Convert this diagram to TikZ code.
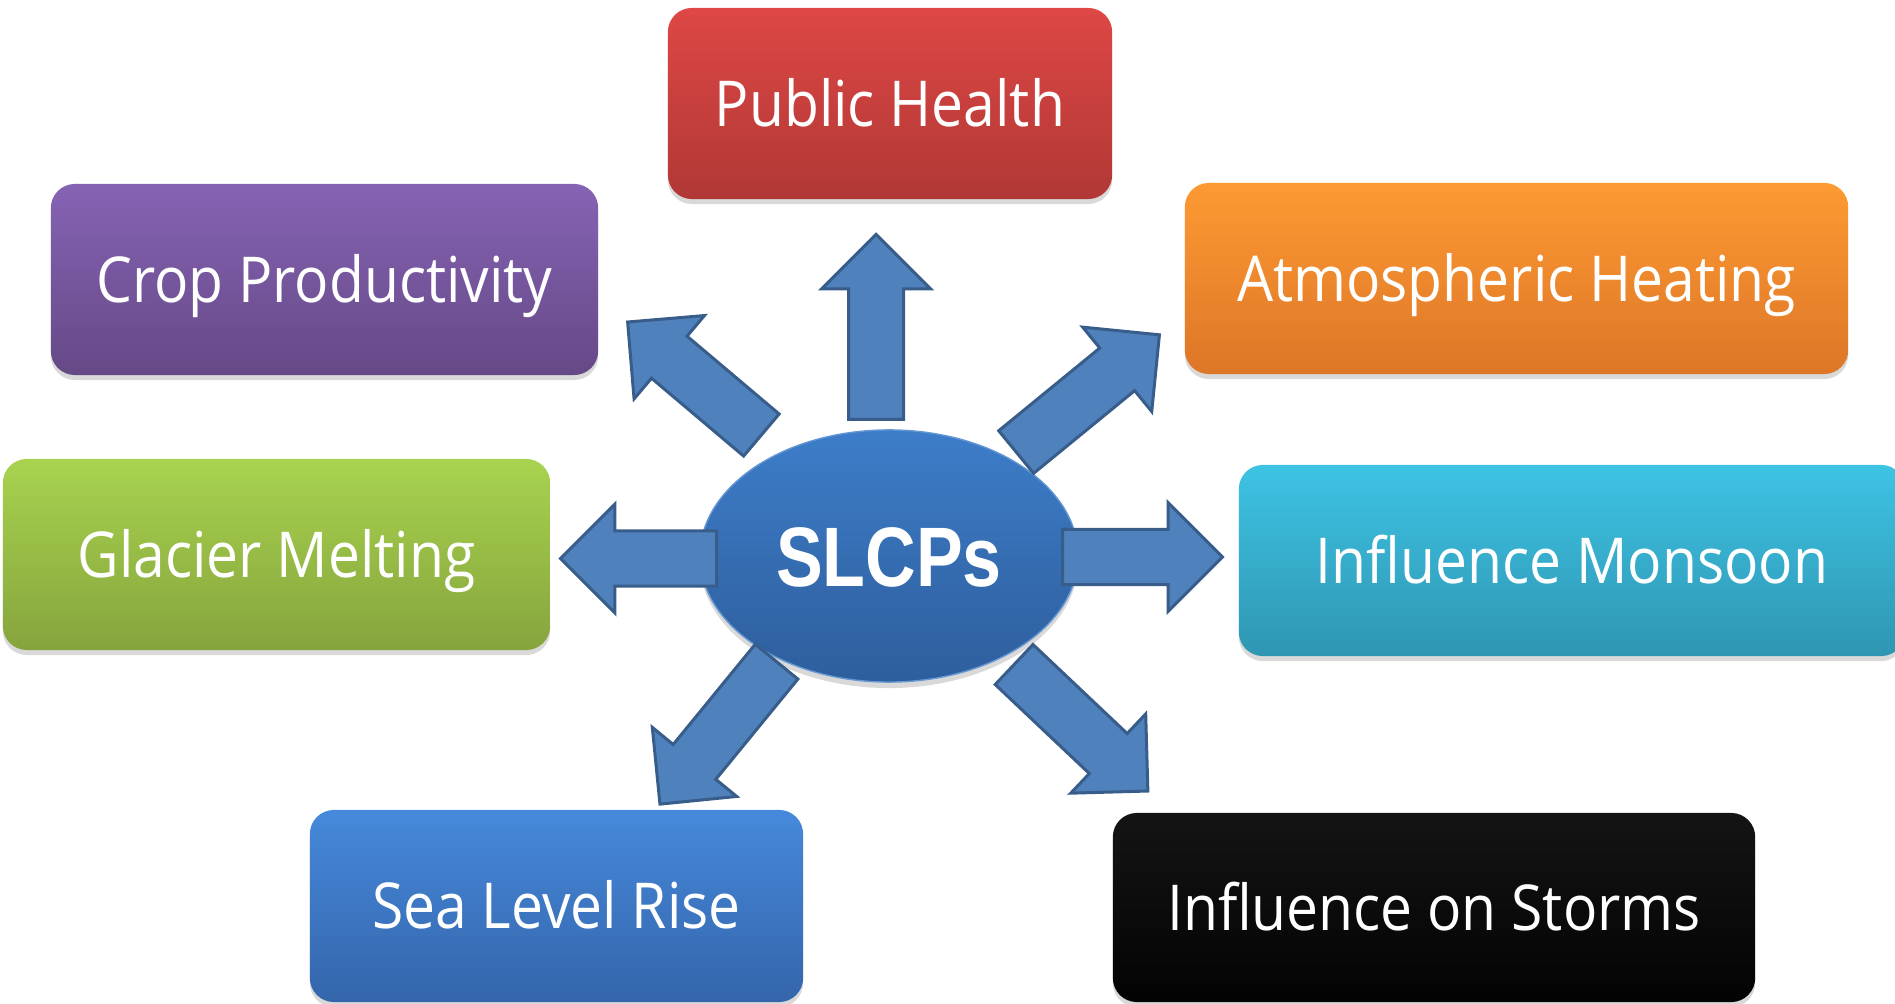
\documentclass[tikz,border=0pt]{standalone}
\usepackage{fontspec}
\usetikzlibrary{shapes.geometric,shapes.arrows,shadows}

\newfontfamily\topicfont{Open Sans}[FakeStretch=0.9]
\newfontfamily\hubfont{Liberation Sans}[FakeStretch=0.83]

\definecolor{healthtop}{HTML}{DE4745}
\definecolor{healthbot}{HTML}{B03835}
\definecolor{croptop}{HTML}{8663B4}
\definecolor{cropbot}{HTML}{654986}
\definecolor{atmostop}{HTML}{FE9A33}
\definecolor{atmosbot}{HTML}{DD7627}
\definecolor{glaciertop}{HTML}{A8D34F}
\definecolor{glacierbot}{HTML}{86A43D}
\definecolor{monsoontop}{HTML}{3EC3E4}
\definecolor{monsoonbot}{HTML}{2E96B2}
\definecolor{seatop}{HTML}{4689DB}
\definecolor{seabot}{HTML}{3465AB}
\definecolor{stormtop}{HTML}{141414}
\definecolor{stormbot}{HTML}{030303}
\definecolor{hubtop}{HTML}{3D7DC9}
\definecolor{hubbot}{HTML}{2E5E9C}
\definecolor{arrowfill}{HTML}{4F81BD}
\definecolor{arrowline}{HTML}{385D8A}

\tikzset{
    topic/.style 2 args={rectangle, rounded corners=0.24cm, top color=#1, bottom color=#2,
        text=white, inner sep=0pt,
        font=\topicfont\fontsize{18}{20}\selectfont, text height=12.85pt, text depth=0pt,
        drop shadow={shadow xshift=0cm, shadow yshift=-0.05cm, opacity=0.3}},
    blockarrow/.style={single arrow, draw=arrowline, fill=arrowfill, line width=0.03cm,
        inner xsep=0pt, inner ysep=0.26cm, minimum width=1.08cm, single arrow head extend=0.27cm,
        single arrow tip angle=90, anchor=tail}
}

\begin{document}
\begin{tikzpicture}[x=0.01cm, y=-0.01cm]
    \useasboundingbox (0,0) rectangle (1895,1004);

    % effects
    \node[topic={healthtop}{healthbot}, minimum width=4.44cm, minimum height=1.91cm] (health) at (890,103.5) {Public Health};
    \node[topic={croptop}{cropbot}, minimum width=5.47cm, minimum height=1.91cm] (crop) at (324.5,279.5) {Crop Productivity};
    \node[topic={atmostop}{atmosbot}, minimum width=6.63cm, minimum height=1.91cm] (atmos) at (1516.5,278.5) {Atmospheric Heating};
    \node[topic={glaciertop}{glacierbot}, minimum width=5.47cm, minimum height=1.91cm] (glacier) at (276.5,554.5) {Glacier Melting};
    \node[topic={monsoontop}{monsoonbot}, minimum width=6.66cm, minimum height=1.91cm] (monsoon) at (1572,560.5) {Influence Monsoon};
    \node[topic={seatop}{seabot}, minimum width=4.93cm, minimum height=1.92cm] (sea) at (556.5,906) {Sea Level Rise};
    \node[topic={stormtop}{stormbot}, minimum width=6.42cm, minimum height=1.89cm] (storms) at (1434,907.5) {Influence on Storms};

    % centre
    \node[ellipse, minimum width=3.78cm, minimum height=2.52cm, top color=hubtop, bottom color=hubbot,
          draw=hubtop!80!white, line width=0.4pt, text=white, inner sep=0pt,
          font=\hubfont\bfseries\fontsize{24}{26}\selectfont, text height=17.2pt, text depth=0pt,
          drop shadow={shadow xshift=0cm, shadow yshift=-0.06cm, opacity=0.3}] (hub) at (889,556) {SLCPs};

    % arrows out of the centre, placed by their tails
    \begin{scope}[every node/.style={blockarrow}]
        \node[minimum height=1.85cm, rotate=90] (toHealth) at (876,421) {};
        \node[minimum height=1.75cm, rotate=139.8] (toCrop) at (762.5,436) {};
        \node[minimum height=1.85cm, rotate=39.3] (toAtmos) at (1015,453) {};
        \node[minimum height=1.56cm, rotate=180] (toGlacier) at (718,558.5) {};
        \node[minimum height=1.60cm, rotate=0] (toMonsoon) at (1061,557) {};
        \node[minimum height=1.84cm, rotate=-129.3] (toSea) at (777.5,660.5) {};
        \node[minimum height=1.84cm, rotate=-43.4] (toStorms) at (1013,663.5) {};
    \end{scope}
\end{tikzpicture}
\end{document}
